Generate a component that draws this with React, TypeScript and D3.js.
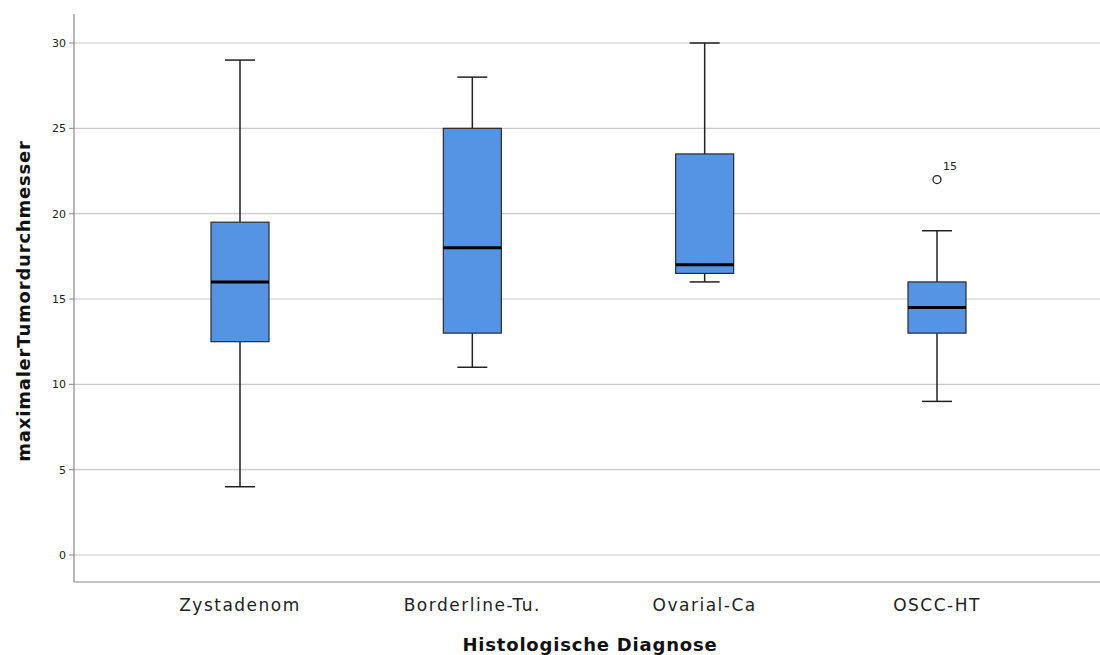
import React from "react";
import * as d3 from "d3";

const categories = ["Zystadenom", "Borderline-Tu.", "Ovarial-Ca", "OSCC-HT"];
const whiskerLow = [4, 11, 16, 9];
const q1 = [12.5, 13, 16.5, 13];
const median = [16, 18, 17, 14.5];
const q3 = [19.5, 25, 23.5, 16];
const whiskerHigh = [29, 28, 30, 19];
const outliers = [{ cat: "OSCC-HT", value: 22, label: "15" }];
const yTicks = [0, 5, 10, 15, 20, 25, 30];

const W = 1100;
const H = 655;

export default function App() {
  const y = d3.scaleLinear().domain([0, 30]).range([555, 43]);
  const x = d3.scalePoint<string>().domain(categories).range([240, 937]);
  const boxW = 58;
  const capW = 30;
  const left = 74;
  const bottom = 582;
  const font = "'DejaVu Sans', sans-serif";

  return (
    <svg width={W} height={H} style={{ position: "absolute", left: 0, top: 0, background: "#fff" }}>
      {yTicks.map((t) => (
        <g key={t}>
          <line x1={left} x2={W} y1={y(t)} y2={y(t)} stroke="#c9c9c9" strokeWidth={1.2} />
          <line x1={left - 5} x2={left} y1={y(t)} y2={y(t)} stroke="#888" />
          <text x={left - 8} y={y(t)} dy="0.35em" textAnchor="end" fontSize={11} fontFamily={font} fill="#222">
            {t}
          </text>
        </g>
      ))}
      <line x1={left} x2={left} y1={14} y2={bottom} stroke="#888" strokeWidth={1.2} />
      <line x1={left} x2={W} y1={bottom} y2={bottom} stroke="#888" strokeWidth={1.2} />

      {categories.map((c, i) => {
        const cx = x(c)!;
        return (
          <g key={c}>
            <line x1={cx} x2={cx} y1={y(whiskerHigh[i])} y2={y(q3[i])} stroke="#222" strokeWidth={1.5} />
            <line x1={cx} x2={cx} y1={y(q1[i])} y2={y(whiskerLow[i])} stroke="#222" strokeWidth={1.5} />
            <line x1={cx - capW / 2} x2={cx + capW / 2} y1={y(whiskerHigh[i])} y2={y(whiskerHigh[i])} stroke="#222" strokeWidth={1.5} />
            <line x1={cx - capW / 2} x2={cx + capW / 2} y1={y(whiskerLow[i])} y2={y(whiskerLow[i])} stroke="#222" strokeWidth={1.5} />
            <rect
              x={cx - boxW / 2}
              y={y(q3[i])}
              width={boxW}
              height={y(q1[i]) - y(q3[i])}
              fill="#5594e4"
              stroke="#2a2a2a"
              strokeWidth={1.2}
            />
            <line x1={cx - boxW / 2} x2={cx + boxW / 2} y1={y(median[i])} y2={y(median[i])} stroke="#000" strokeWidth={3} />
            <text x={cx} y={611} textAnchor="middle" fontSize={17} letterSpacing={1.5} fontFamily={font} fill="#222">
              {c}
            </text>
          </g>
        );
      })}

      {outliers.map((o) => (
        <g key={o.label}>
          <circle cx={x(o.cat)!} cy={y(o.value)} r={4} fill="none" stroke="#222" strokeWidth={1.3} />
          <text x={x(o.cat)! + 6} y={y(o.value) - 10} fontSize={11} fontFamily={font} fill="#222">
            {o.label}
          </text>
        </g>
      ))}

      <text x={590} y={651} textAnchor="middle" fontSize={18} letterSpacing={0.8} fontWeight="bold" fontFamily={font} fill="#111">
        Histologische Diagnose
      </text>
      <text
        transform={`translate(30,${(140 + 462) / 2}) rotate(-90)`}
        textAnchor="middle"
        fontSize={18}
        letterSpacing={0.8}
        fontWeight="bold"
        fontFamily={font}
        fill="#111"
      >
        maximalerTumordurchmesser
      </text>
    </svg>
  );
}
